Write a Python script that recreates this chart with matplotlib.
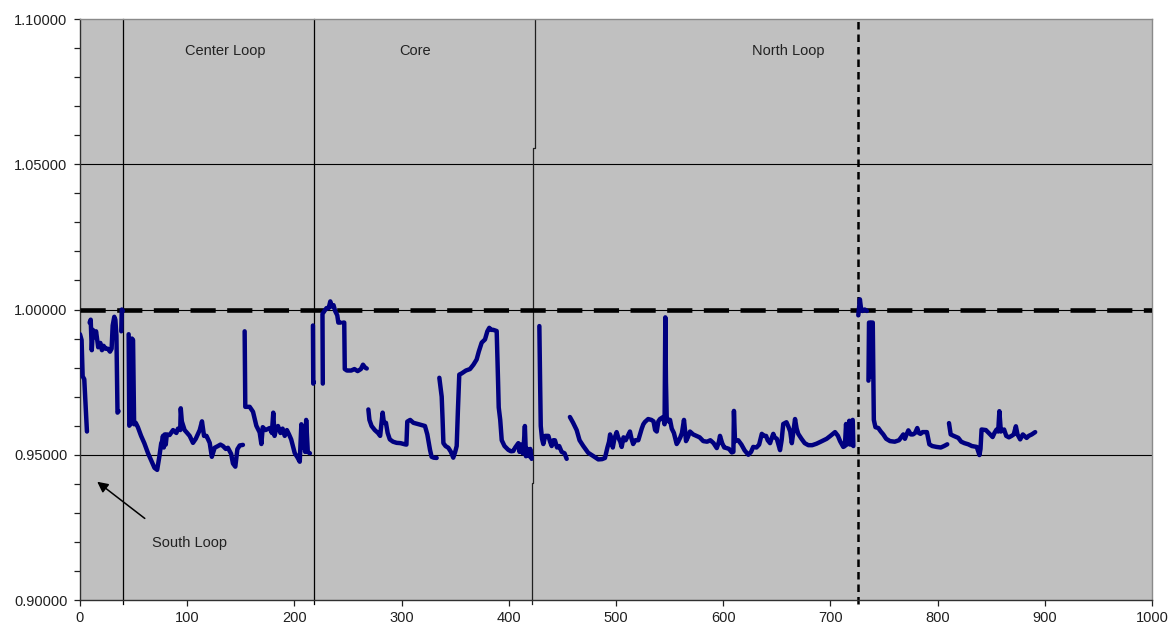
import matplotlib.pyplot as plt
from matplotlib.ticker import MultipleLocator, FormatStrFormatter

plt.rcParams['font.family'] = ['Liberation Sans', 'DejaVu Sans']

# === data: one list pair per unbroken piece of the trace ===
seg1_x = [0, 1.5, 2.5, 4, 6.5]
seg1_y = [0.9915, 0.9895, 0.977, 0.976, 0.958]

seg2_x = [9, 10, 11, 12, 13.5, 15, 17, 19, 20.5, 22, 24, 26, 28, 29.5, 30.5, 32, 33, 34, 35, 36]
seg2_y = [0.9955, 0.9965, 0.986, 0.993, 0.9905, 0.9925, 0.987, 0.9885, 0.986, 0.9875,
          0.9865, 0.9865, 0.9855, 0.9865, 0.9945, 0.9975, 0.9965, 0.991, 0.9645, 0.965]

seg3_x = [38.5, 39, 40]
seg3_y = [0.9925, 1.0, 0.9995]

seg4_x = [45.4, 46, 47, 48.5, 49.5, 50.5, 52, 54, 57, 60, 63.5, 66.5, 69.5, 72, 74, 75.8,
          76.5, 77.4, 78.2, 79, 80, 81, 83.6, 86.8, 89.9, 91.4, 93.5, 94, 95, 97.6, 100,
          102.3, 105.4, 108, 111.7, 113.8, 115.7, 118, 121, 123, 125.6, 128.7, 131, 133.4,
          136, 138, 141, 142.7, 144.9, 146.8, 149, 152]
seg4_y = [0.9915, 0.960, 0.9605, 0.990, 0.9895, 0.9605, 0.961, 0.9595, 0.9565, 0.954,
          0.9505, 0.948, 0.9455, 0.9448, 0.9493, 0.954, 0.9545, 0.9565, 0.9525, 0.957,
          0.9535, 0.957, 0.9568, 0.9585, 0.9575, 0.959, 0.9585, 0.966, 0.9615, 0.9585,
          0.9575, 0.9565, 0.9541, 0.9555, 0.9585, 0.9615, 0.9565, 0.9565, 0.9541, 0.9493,
          0.9524, 0.953, 0.9535, 0.953, 0.952, 0.9524, 0.9503, 0.947, 0.9459, 0.9519,
          0.9532, 0.9534]

seg5_x = [153.6, 154.2, 158.3, 161.4, 164.5, 167.6, 169.2, 170.5, 173, 177, 179, 180.3,
          181.5, 183, 184.7, 187, 189, 191, 193, 195, 197, 200.3, 203, 205, 206.5, 207.5,
          209, 210, 211, 212.5, 214.5]
seg5_y = [0.9925, 0.9665, 0.9665, 0.9648, 0.960, 0.9577, 0.9537, 0.9595, 0.9585, 0.9592,
          0.9575, 0.9645, 0.9565, 0.959, 0.9599, 0.9575, 0.959, 0.9565, 0.9585, 0.957,
          0.9553, 0.9506, 0.949, 0.9476, 0.9605, 0.9525, 0.9595, 0.951, 0.962, 0.951, 0.9505]

seg6_x = [217.3, 217.6, 218.2]
seg6_y = [0.9945, 0.9745, 0.975]

seg7_x = [226.5, 226.2, 228, 230, 232, 233.5, 235, 236.5, 238, 240, 241, 243]
seg7_y = [0.9745, 0.9985, 0.9995, 1.0005, 1.0005, 1.0028, 1.001, 1.0015, 0.9995, 0.998,
          0.9955, 0.9955]

seg8_x = [245.5, 246.5, 247, 249, 253, 256, 259, 262, 264, 266, 267.5]
seg8_y = [0.9955, 0.9955, 0.9795, 0.979, 0.979, 0.9795, 0.9788, 0.9795, 0.981, 0.980, 0.9797]

seg9_x = [269, 270, 272, 275, 278, 280, 282.3, 283.5, 285.4, 287, 289, 292, 295.4, 299,
          303, 304.5, 305.3, 308, 311, 316, 321.8, 324, 326.5, 328, 330, 332.7]
seg9_y = [0.9656, 0.962, 0.9599, 0.9585, 0.9575, 0.9565, 0.9645, 0.961, 0.961, 0.9575,
          0.9553, 0.9545, 0.9541, 0.954, 0.9536, 0.9535, 0.9614, 0.962, 0.961, 0.9605,
          0.9599, 0.957, 0.9517, 0.9493, 0.949, 0.9489]

seg10_x = [335.2, 337.4, 338.2, 339, 341, 343.6, 346, 348.2, 350, 351.4, 352.5, 353.8, 356,
           360, 363.8, 367, 370, 372, 374.7, 377.8, 380, 381.8, 383.5, 385.5, 388.7, 390,
           390.6, 392, 393.4, 396, 399.5, 402, 404.2, 406, 408.9, 410, 411.5, 413, 414, 415,
           416, 417.5, 419, 420, 421.3]
seg10_y = [0.9765, 0.970, 0.9625, 0.954, 0.953, 0.9524, 0.951, 0.949, 0.951, 0.953, 0.965,
           0.9776, 0.978, 0.979, 0.9795, 0.981, 0.9828, 0.9855, 0.9886, 0.9897, 0.9925,
           0.9937, 0.993, 0.993, 0.9926, 0.975, 0.9663, 0.962, 0.955, 0.953, 0.9517, 0.9512,
           0.9513, 0.9525, 0.954, 0.951, 0.9535, 0.9505, 0.9535, 0.9599, 0.9495, 0.952,
           0.9495, 0.952, 0.9486]

seg11_x = [428.5, 429.2, 429.8, 431, 432.2, 434, 436.9, 438.5, 440, 441.5, 443, 445, 447,
           449.3, 452, 454]
seg11_y = [0.9943, 0.975, 0.9599, 0.9555, 0.9537, 0.9565, 0.9565, 0.9545, 0.953, 0.955,
           0.955, 0.9525, 0.953, 0.951, 0.9505, 0.9486]

seg12_x = [457, 460, 463.3, 466, 469.5, 474, 479, 483.5, 487, 489.7, 492, 493.5, 494.5, 496,
           497, 498.5, 500.6, 502, 504, 505.3, 507, 509, 511, 513, 514.5, 516, 518, 520.8,
           522, 524, 525.5, 527, 530, 533, 535, 536.5, 538, 539.5, 541, 544, 545.3, 546,
           546.6, 547.3, 549, 550.4, 552, 554, 556.6, 558, 560, 561.5, 563.4, 564.5, 565.3,
           567, 569, 572, 575, 578, 581.4, 585, 588, 591, 594, 596, 597, 599, 601, 603.2,
           605.5, 608, 609.5, 610, 611, 614, 617, 620, 623.4, 626, 628, 631, 633.5, 636,
           638, 640, 641.5, 643.7, 645, 646.7, 648, 650, 653, 654.5, 656, 659, 661, 662.5,
           664, 665.5, 667, 668.5, 670, 673, 676, 679.4, 683, 687, 691, 696.5, 700, 704.3,
           707, 709, 712, 713.5, 714.6, 715.5, 716.5, 717.6, 718.5, 720, 720.8, 721.4]
seg12_y = [0.963, 0.961, 0.9585, 0.955, 0.953, 0.9507, 0.9495, 0.9484, 0.9485, 0.9489,
           0.9525, 0.9545, 0.957, 0.9545, 0.9525, 0.9555, 0.9578, 0.956, 0.9545, 0.9527,
           0.956, 0.955, 0.9565, 0.958, 0.9555, 0.9537, 0.955, 0.955, 0.9565, 0.959, 0.9605,
           0.9613, 0.9623, 0.962, 0.9615, 0.9585, 0.958, 0.9615, 0.9623, 0.963, 0.9605,
           0.9973, 0.975, 0.963, 0.9615, 0.962, 0.959, 0.9575, 0.9537, 0.9545, 0.956, 0.9575,
           0.962, 0.958, 0.9547, 0.956, 0.958, 0.957, 0.9565, 0.956, 0.9547, 0.9545, 0.955,
           0.954, 0.9523, 0.9545, 0.9565, 0.954, 0.9525, 0.9523, 0.952, 0.9508, 0.951,
           0.9651, 0.9547, 0.955, 0.9535, 0.9515, 0.950, 0.951, 0.9527, 0.9525, 0.9535,
           0.9572, 0.9565, 0.9565, 0.955, 0.954, 0.9555, 0.9572, 0.956, 0.9555, 0.9516,
           0.955, 0.9606, 0.9612, 0.9595, 0.958, 0.954, 0.958, 0.9623, 0.959, 0.9572, 0.9555,
           0.954, 0.9533, 0.9533, 0.9538, 0.9545, 0.9555, 0.9565, 0.9578, 0.9565, 0.9547,
           0.9527, 0.953, 0.9606, 0.9535, 0.955, 0.9617, 0.9535, 0.9617, 0.962, 0.953]

seg13_x = [726, 727.5, 728.5, 730, 732, 734]
seg13_y = [0.998, 1.0035, 1.0005, 0.9995, 1.0, 0.9995]

seg14_x = [735.5, 736, 737, 737.5, 738.5, 739.5, 740.5, 742, 744.7, 747, 749.3, 752, 755.6,
           760, 764, 768, 769.5, 770.5, 772.7, 775, 777, 779, 781, 782.5, 784, 786, 790,
           792.3, 795, 799, 803, 806, 809]
seg14_y = [0.9755, 0.9955, 0.9955, 0.977, 0.9955, 0.9955, 0.962, 0.9595, 0.9592, 0.958,
           0.957, 0.9555, 0.9547, 0.9545, 0.955, 0.957, 0.9555, 0.9565, 0.9584, 0.957, 0.957,
           0.9575, 0.9592, 0.9575, 0.9572, 0.9578, 0.9578, 0.9536, 0.953, 0.9527, 0.9525,
           0.953, 0.9536]

seg15_x = [810.6, 812.2, 815, 819.3, 822, 825, 828.6, 832, 836.5, 839, 840, 841, 845, 849,
           851.3, 853, 855, 856.5, 857.6, 859, 862, 864, 866.5, 869, 871, 873, 874.5, 877,
           879.5, 883, 885, 887.8, 891]
seg15_y = [0.9609, 0.957, 0.9565, 0.9558, 0.9545, 0.954, 0.9536, 0.953, 0.9527, 0.9499,
           0.952, 0.9587, 0.9585, 0.957, 0.9561, 0.9575, 0.9587, 0.958, 0.965, 0.958, 0.9587,
           0.9565, 0.956, 0.9565, 0.957, 0.9598, 0.957, 0.9553, 0.957, 0.9558, 0.9565, 0.957,
           0.9578]

segments = [(seg1_x, seg1_y), (seg2_x, seg2_y), (seg3_x, seg3_y), (seg4_x, seg4_y),
            (seg5_x, seg5_y), (seg6_x, seg6_y), (seg7_x, seg7_y), (seg8_x, seg8_y),
            (seg9_x, seg9_y), (seg10_x, seg10_y), (seg11_x, seg11_y), (seg12_x, seg12_y),
            (seg13_x, seg13_y), (seg14_x, seg14_y), (seg15_x, seg15_y)]

# region boundaries and labels
boundary_x = [40.1, 218.3]
north_boundary_x = [424.2, 424.2, 422.9, 422.9, 421.6, 421.6]
north_boundary_y = [1.1, 1.0555, 1.0555, 0.9402, 0.9402, 0.9]
dashed_boundary_x = 725.3
reference_value = 1.0

region_labels = ["Center Loop", "Core", "North Loop"]
region_label_x = [135.3, 312.5, 660.4]
region_label_y = 1.089

# === figure ===
fig = plt.figure(figsize=(11.71, 6.30), dpi=100)
ax = fig.add_axes([0.0683, 0.0476, 0.9155, 0.9222])
ax.set_facecolor('#c0c0c0')

ax.set_xlim(0, 1000)
ax.set_ylim(0.9, 1.1)

# grid on major y
for gy in [0.95, 1.0, 1.05]:
    ax.axhline(gy, color='black', lw=0.8, zorder=1)

for bx in boundary_x:
    ax.plot([bx, bx], [0.8985, 1.1], color='black', lw=0.9, zorder=2, clip_on=False)
ax.plot(north_boundary_x, north_boundary_y, color='#202020', lw=0.9, zorder=2)
ax.plot([north_boundary_x[-1]] * 2, [0.8985, 0.9], color='#202020', lw=0.9, clip_on=False)
ax.plot([dashed_boundary_x, dashed_boundary_x], [0.8985, 1.1], color='black', lw=1.8,
        dashes=[3, 2], zorder=2, clip_on=False)

ax.axhline(reference_value, color='black', lw=3.3, dashes=[5.5, 2.5], zorder=3)

for sx, sy in segments:
    ax.plot(sx, sy, color='#000080', lw=3.2, solid_joinstyle='round',
            solid_capstyle='round', zorder=4)

for lab, lx in zip(region_labels, region_label_x):
    ax.text(lx, region_label_y, lab, ha='center', va='center', fontsize=10.5, color='#222222')

ax.annotate("", xy=(14, 0.9413), xytext=(62.5, 0.9275),
            arrowprops=dict(arrowstyle='-|>', color='black', lw=1.1, mutation_scale=16))
ax.text(102.6, 0.9196, "South Loop", ha='center', va='center', fontsize=10.5, color='#222222')

# axes styling
ax.xaxis.set_major_locator(MultipleLocator(100))
ax.yaxis.set_major_locator(MultipleLocator(0.05))
ax.yaxis.set_minor_locator(MultipleLocator(0.01))
ax.yaxis.set_major_formatter(FormatStrFormatter('%.5f'))
ax.tick_params(axis='both', which='both', direction='out', length=4, width=0.9,
               labelsize=10.5, colors='#202020')
ax.tick_params(axis='y', pad=5)
ax.tick_params(axis='x', pad=4)

for side in ['left', 'bottom']:
    ax.spines[side].set_color('#303030')
    ax.spines[side].set_linewidth(1.0)
for side in ['top', 'right']:
    ax.spines[side].set_color('#8a8a8a')
    ax.spines[side].set_linewidth(1.0)

fig.savefig("out.png", dpi=100, facecolor='white')
